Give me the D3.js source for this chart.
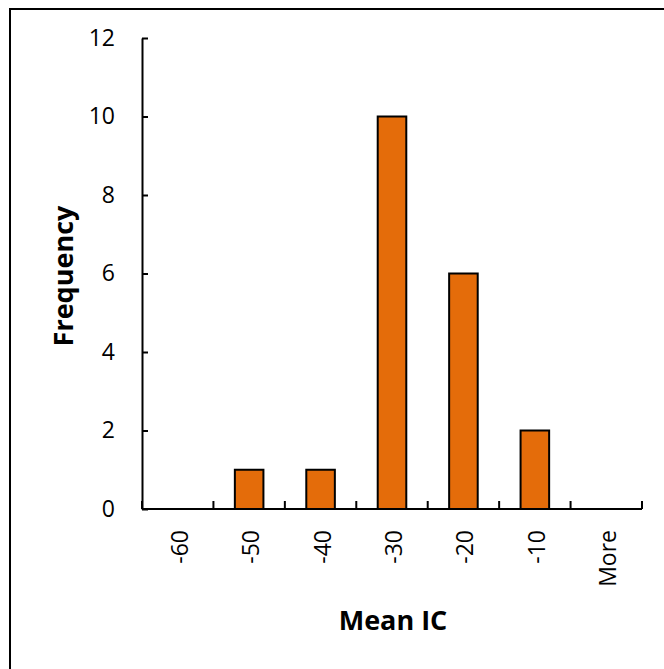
<!DOCTYPE html>
<html><head><meta charset="utf-8">
<script src="https://cdn.jsdelivr.net/npm/d3@7"></script>
<style>
html,body{margin:0;padding:0;background:#fff;}
svg{display:block;}
text{font-family:"Open Sans","Liberation Sans",Arial,sans-serif;fill:#000;}
</style></head>
<body>
<svg id="chart" width="664" height="669"></svg>
<script>
const categories = ["-60","-50","-40","-30","-20","-10","More"];
const frequency = [0,1,1,10,6,2,0];
const yTicks = [0,2,4,6,8,10,12];
const xTitle = "Mean IC";
const yTitle = "Frequency";

(function(){
const FONT = "'Open Sans','Liberation Sans',Arial,sans-serif";
const svg = d3.select("#chart");
// outer frame (only left/top visible in reference)
svg.append("rect").attr("x",10).attr("y",9).attr("width",700).attr("height",700)
  .attr("fill","none").attr("stroke","#000").attr("stroke-width",2);

const pL=142, pR=642, pT=38, pB=509;
const x = d3.scaleBand().domain(categories).range([pL,pR]).paddingInner(0.6).paddingOuter(0.3);
const y = d3.scaleLinear().domain([0,12]).range([pB,pT]);

// bars
svg.append("g").selectAll("rect").data(categories.map((c,i)=>({c,v:frequency[i]})).filter(d=>d.v>0))
  .join("rect")
  .attr("x",d=>x(d.c)).attr("y",d=>y(d.v))
  .attr("width",x.bandwidth()).attr("height",d=>y(0)-y(d.v))
  .attr("fill","#E46C0A").attr("stroke","#000").attr("stroke-width",2);

// y axis
const ya = svg.append("g").attr("transform",`translate(${pL},0)`)
  .call(d3.axisLeft(y).tickValues(yTicks).tickSizeInner(-6).tickSizeOuter(0).tickPadding(27));
ya.attr("font-family",FONT).attr("font-size",23);
ya.select(".domain").attr("stroke","#000").attr("stroke-width",2);
ya.selectAll(".tick line").attr("stroke","#000").attr("stroke-width",2);
ya.selectAll(".tick text").attr("font-size",23).attr("font-family",FONT);

// x axis
const step = x.step();
const x0 = x(categories[0]) + x.bandwidth()/2 - step/2;
const bounds = d3.range(categories.length+1).map(i=>x0+i*step);
const xg = svg.append("g");
xg.append("line").attr("x1",pL).attr("x2",pR).attr("y1",pB).attr("y2",pB)
  .attr("stroke","#000").attr("stroke-width",2);
xg.selectAll("line.t").data(bounds).join("line").attr("class","t")
  .attr("x1",d=>d).attr("x2",d=>d).attr("y1",pB).attr("y2",pB-8)
  .attr("stroke","#000").attr("stroke-width",2);
xg.selectAll("text").data(categories).join("text")
  .attr("transform",d=>`translate(${x(d)+x.bandwidth()/2+2},530) rotate(-90)`)
  .attr("text-anchor","end").attr("dy","0.35em").attr("font-size",23).attr("font-family",FONT).text(d=>d);

// titles
svg.append("text").attr("x",393).attr("y",630).attr("text-anchor","middle")
  .attr("font-family",FONT).attr("font-size",27).attr("font-weight","bold").text(xTitle);
svg.append("text").attr("transform","translate(73,276) rotate(-90)").attr("text-anchor","middle")
  .attr("font-family",FONT).attr("font-size",27).attr("font-weight","bold").text(yTitle);
})();
</script>
</body></html>
